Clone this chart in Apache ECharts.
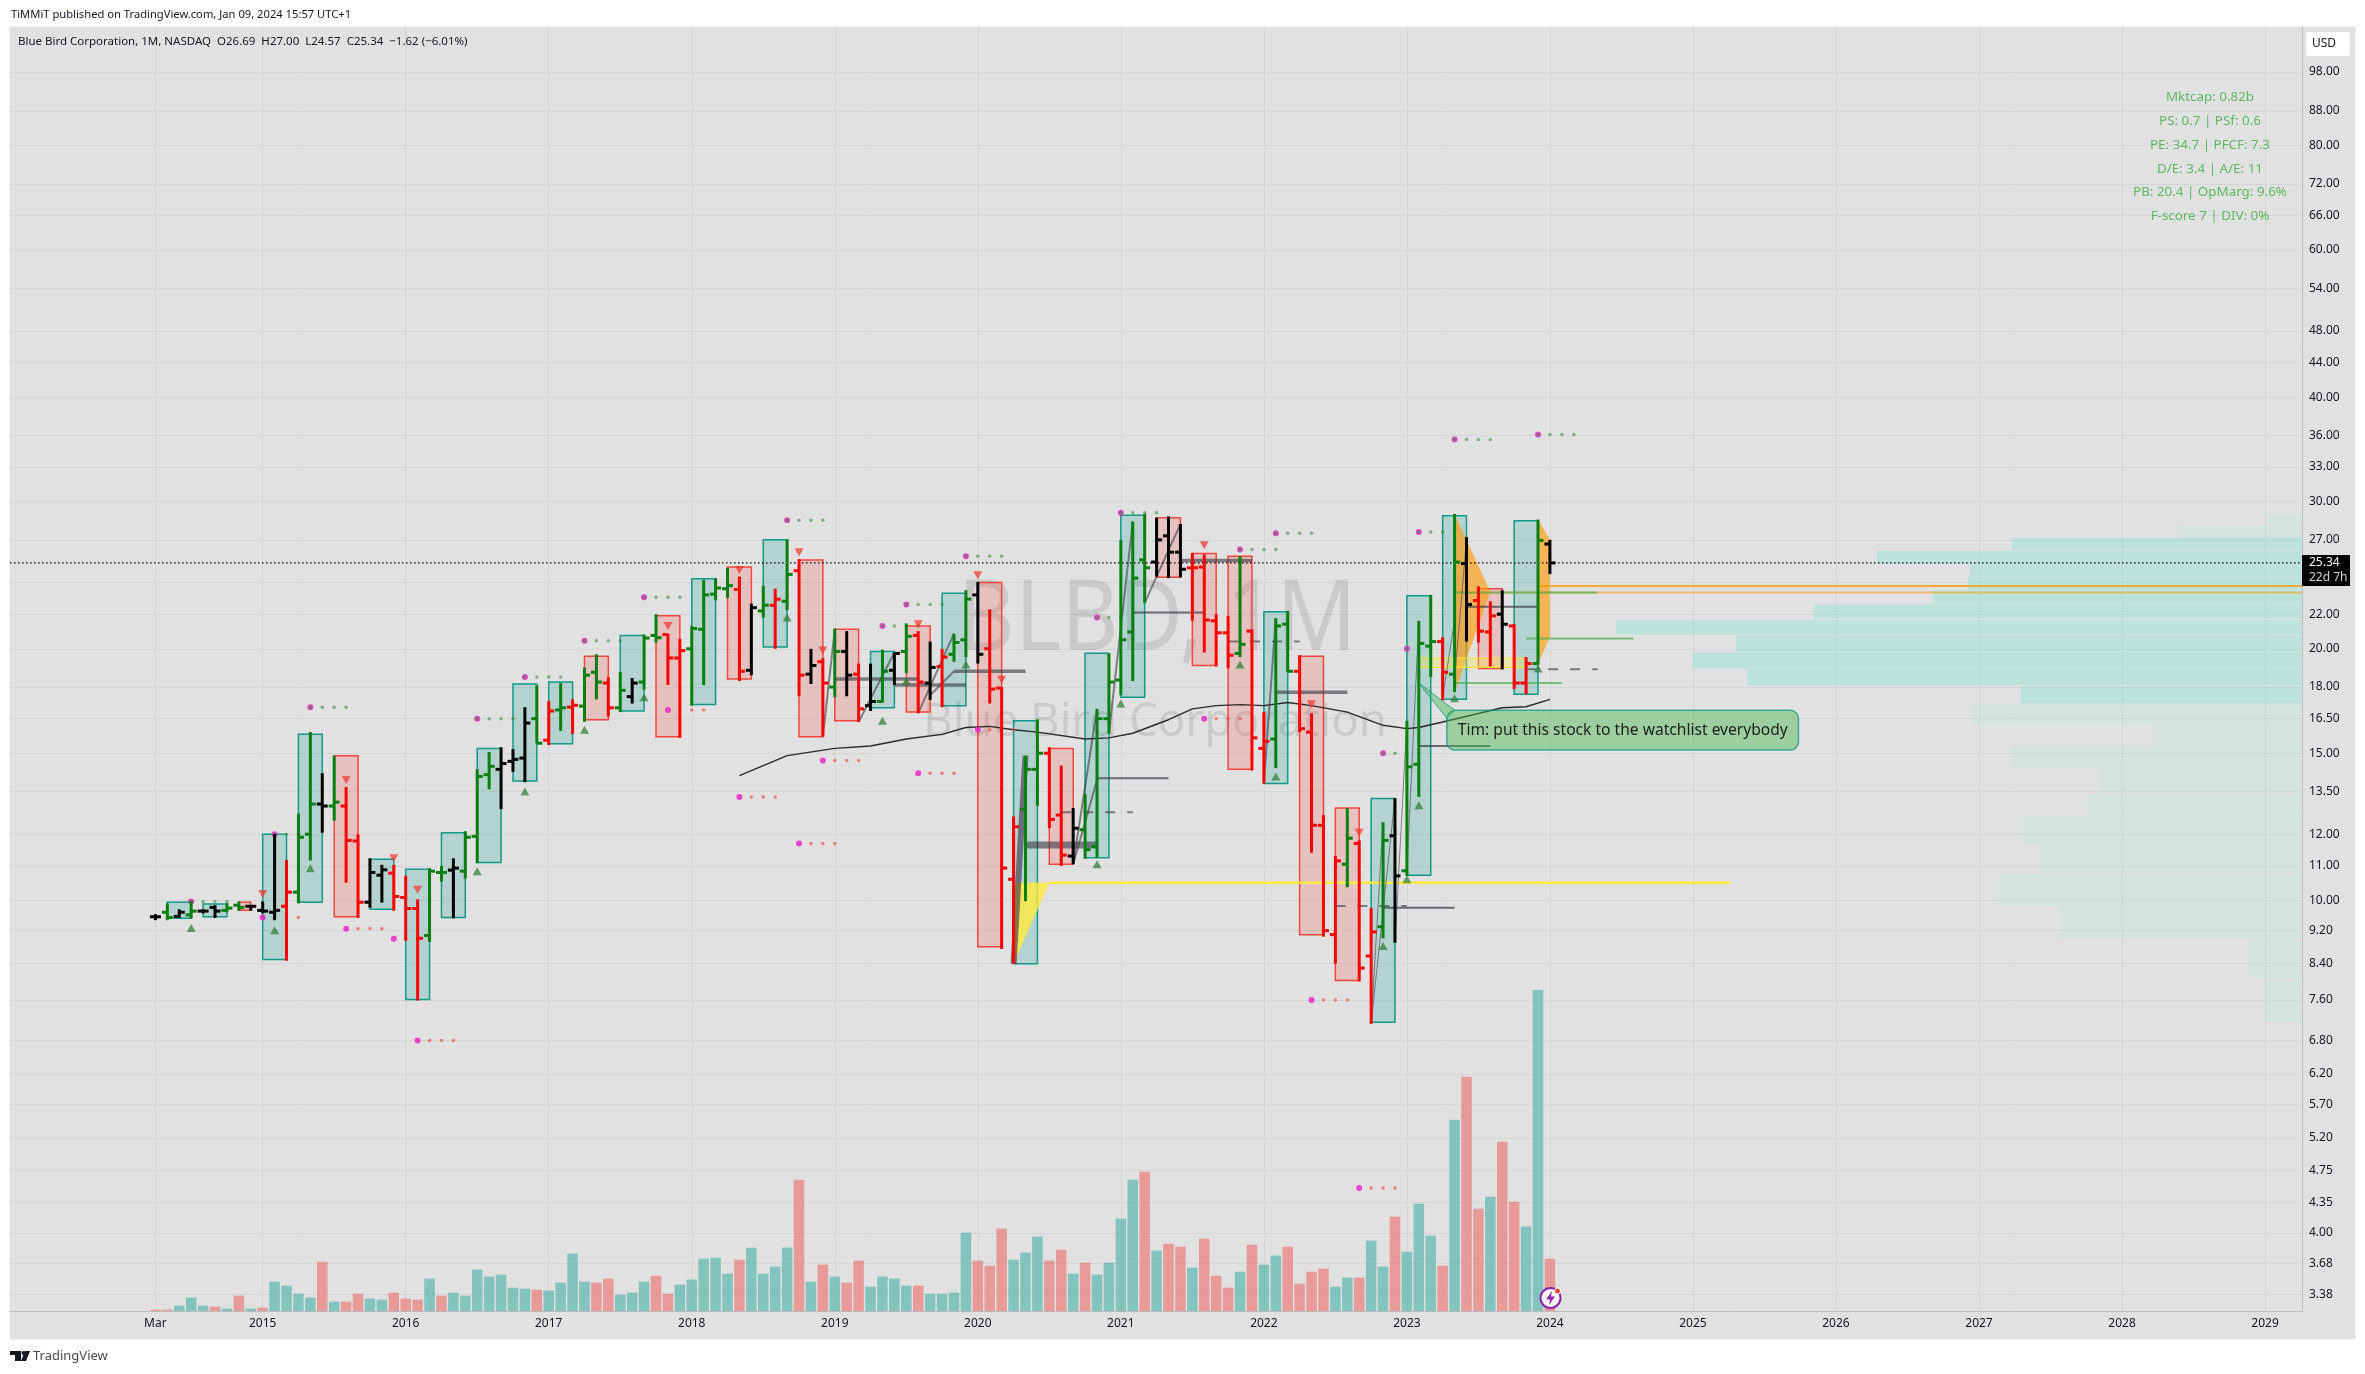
<!DOCTYPE html>
<html>
<head>
<meta charset="utf-8">
<title>BLBD 1M</title>
<script src="https://cdn.jsdelivr.net/npm/echarts@6/dist/echarts.min.js"></script>
<style>
  html, body { margin: 0; padding: 0; background: #fff; }
  #chart { width: 2365px; height: 1374px; }
</style>
</head>
<body>
<div id="chart"></div>
<script>
// monthly bars, index 0 = the "Mar" bar
const opens = [
  9.56, 9.68, 9.57, 9.61, 9.71, 9.81, 9.73, 9.87, 9.84, 9.73,
  9.68, 9.84, 10.23, 12.0, 13.04, 12.97, 12.97, 11.78, 9.95, 10.72,
  10.78, 10.08, 9.78, 9.08, 10.8, 10.87, 10.84, 11.93, 14.14, 14.35,
  14.67, 14.8, 16.5, 15.55, 16.9, 17.03, 17.08, 18.75, 18.2, 17.0,
  17.53, 18.25, 20.75, 20.8, 19.5, 20.0, 21.1, 23.25, 23.6, 23.55,
  18.85, 22.2, 22.55, 22.8, 24.8, 18.65, 19.3, 18.0, 19.85, 18.65,
  17.1, 17.3, 18.85, 19.85, 20.75, 18.2, 19.05, 19.7, 20.5, 23.2,
  20.0, 17.95, 10.6, 12.85, 14.35, 15.0, 12.65, 11.3, 12.15, 11.6,
  16.5, 18.35, 20.95, 25.55, 25.4, 27.3, 26.1, 25.0, 25.05, 21.6,
  20.9, 19.75, 21.0, 15.2, 15.6, 21.4, 18.8, 15.9, 12.3, 9.1,
  11.05, 11.7, 8.58, 9.3, 11.95, 10.85, 14.55, 20.15, 20.4, 18.65,
  25.3, 22.85, 20.95, 22.0, 21.3, 18.2, 19.2, 26.69
];
const highs = [
  9.63, 9.92, 9.76, 9.99, 9.76, 9.87, 9.92, 9.97, 9.87, 9.97,
  12.0, 11.18, 12.7, 15.9, 14.2, 14.9, 13.67, 12.0, 11.23, 11.03,
  11.03, 10.7, 10.03, 10.93, 11.0, 11.23, 12.1, 14.35, 15.05, 15.25,
  15.17, 17.03, 18.1, 17.33, 18.2, 17.4, 19.0, 19.7, 18.5, 18.75,
  18.45, 20.8, 22.0, 20.85, 20.55, 21.3, 24.2, 24.3, 25.0, 24.4,
  22.65, 23.8, 23.6, 27.05, 25.6, 20.0, 19.5, 21.15, 21.0, 19.2,
  19.2, 19.95, 19.8, 21.45, 21.0, 20.4, 20.0, 20.85, 23.5, 24.05,
  22.3, 18.0, 12.6, 14.9, 16.47, 15.25, 14.5, 12.9, 13.4, 16.95,
  19.75, 27.0, 28.4, 29.0, 28.7, 28.8, 28.2, 26.05, 25.95, 22.0,
  21.9, 25.8, 21.1, 16.8, 21.75, 22.2, 19.65, 16.75, 12.65, 11.3,
  12.9, 11.8, 9.8, 12.4, 13.26, 16.4, 21.6, 23.2, 20.65, 29.0,
  27.2, 23.75, 22.8, 23.5, 21.4, 19.55, 28.55, 27.0
];
const lows = [
  9.47, 9.47, 9.53, 9.52, 9.65, 9.53, 9.68, 9.72, 9.72, 9.65,
  9.47, 8.47, 9.92, 11.16, 12.05, 12.46, 10.5, 9.53, 9.8, 9.94,
  9.72, 8.95, 7.59, 8.92, 10.53, 9.52, 10.62, 11.08, 13.58, 12.86,
  14.25, 13.85, 15.42, 15.34, 15.95, 15.82, 16.36, 17.4, 16.6, 16.8,
  17.2, 17.87, 20.35, 18.1, 15.65, 17.1, 18.1, 22.85, 23.0, 18.3,
  18.6, 21.8, 20.0, 22.25, 17.55, 18.15, 15.7, 17.5, 17.55, 16.35,
  16.85, 17.25, 18.1, 18.7, 16.75, 17.37, 17.03, 19.3, 19.55, 19.2,
  17.2, 8.75, 8.4, 9.98, 12.98, 12.2, 11.0, 11.05, 11.22, 11.25,
  15.83, 17.6, 18.3, 22.7, 24.4, 24.3, 24.35, 21.6, 19.8, 19.05,
  18.95, 19.55, 14.3, 13.8, 14.4, 18.75, 15.9, 11.4, 9.05, 8.4,
  10.37, 8.0, 7.12, 9.01, 8.9, 10.7, 13.3, 18.5, 17.35, 17.75,
  20.4, 20.35, 19.05, 18.9, 17.9, 17.65, 19.15, 24.57
];
const closes = [
  9.56, 9.54, 9.68, 9.71, 9.71, 9.71, 9.79, 9.81, 9.84, 9.71,
  9.73, 10.23, 11.9, 13.04, 12.97, 13.11, 11.8, 9.95, 10.8, 10.88,
  10.11, 9.78, 9.01, 10.84, 10.8, 10.93, 11.9, 14.07, 14.47, 14.58,
  14.75, 16.3, 15.42, 16.85, 17.0, 17.12, 18.6, 18.25, 17.0, 17.84,
  18.2, 20.6, 20.62, 19.5, 19.9, 21.15, 23.2, 23.65, 23.8, 18.8,
  22.4, 22.55, 22.93, 24.55, 18.6, 19.1, 18.2, 19.85, 18.6, 16.95,
  17.3, 18.8, 19.75, 20.7, 18.25, 19.0, 19.55, 20.35, 22.93, 19.7,
  17.9, 10.93, 12.25, 14.35, 15.0, 12.5, 11.33, 12.2, 11.5, 16.5,
  18.25, 20.5, 24.3, 25.0, 27.0, 26.1, 24.9, 25.0, 21.65, 20.9,
  19.65, 20.25, 15.65, 15.5, 21.3, 18.8, 16.05, 12.3, 9.2, 11.15,
  11.87, 8.3, 9.17, 11.8, 10.7, 14.45, 20.3, 20.4, 18.75, 25.4,
  22.6, 21.0, 21.9, 21.4, 18.2, 19.2, 26.96, 25.34
];
const barTones = "kgkgkkggkk" + "krggkgrrkk" + "rrrggkgggk" + "kkgrgrggrg" + "kggrrggggr" + "kgrgrkrgkr" +
  "kgkgrkrggk" + "rrrggrrkgg" + "ggggkkkrrr" + "rgrrggrrrr" + "grrgkgggrg" + "krrkrrgk";

const volumes = [
  0.04, 0.04, 0.16, 0.4, 0.16, 0.13, 0.07, 0.46, 0.07, 0.1,
  0.88, 0.76, 0.52, 0.4, 1.48, 0.28, 0.28, 0.52, 0.37, 0.34,
  0.55, 0.37, 0.34, 0.97, 0.46, 0.55, 0.46, 1.24, 1.03, 1.09,
  0.7, 0.67, 0.64, 0.61, 0.85, 1.72, 0.88, 0.85, 0.97, 0.49,
  0.55, 0.88, 1.06, 0.52, 0.79, 0.94, 1.57, 1.6, 1.12, 1.54,
  1.9, 1.12, 1.33, 1.9, 3.94, 0.88, 1.39, 1.03, 0.85, 1.51,
  0.73, 1.03, 0.97, 0.76, 0.76, 0.52, 0.52, 0.55, 2.35, 1.51,
  1.36, 2.47, 1.54, 1.75, 2.23, 1.51, 1.84, 1.12, 1.45, 1.09,
  1.45, 2.77, 3.94, 4.18, 1.81, 2.02, 1.93, 1.3, 2.17, 1.06,
  0.7, 1.18, 1.99, 1.39, 1.66, 1.93, 0.82, 1.18, 1.27, 0.73,
  1.0, 1.0, 2.11, 1.33, 2.83, 1.78, 3.22, 2.26, 1.36, 5.74,
  7.03, 3.07, 3.43, 5.08, 3.28, 2.53, 9.63, 1.57
];
const volumeTones = "rrtttrtrtr" + "ttttrtrrtt" + "rrrtrttttt" + "ttrttttrrt" + "ttrrtttttr" + "ttttrtrtrr" +
  "ttttrttttr" + "rrtttrrtrt" + "tttrtrrtrr" + "rtrttrrrrt" + "trttrtttrt" + "rrtrrttr";

// quarter boxes: first bar, last bar, top price, bottom price
const tealBoxes = [
  [1, 3, 9.95, 9.52], [4, 6, 9.9, 9.56], [9, 11, 12.0, 8.5], [12, 14, 15.8, 9.95],
  [18, 20, 11.2, 9.76], [21, 23, 10.9, 7.61], [24, 26, 12.05, 9.54], [27, 29, 15.2, 11.1],
  [30, 32, 18.15, 13.9], [33, 35, 18.25, 15.4], [39, 41, 20.75, 16.85], [45, 47, 24.25, 17.15],
  [51, 53, 27.0, 20.1], [60, 62, 19.85, 17.0], [66, 68, 23.3, 17.1], [72, 74, 16.4, 8.4],
  [78, 80, 19.75, 11.25], [81, 83, 28.9, 17.5], [93, 95, 22.15, 13.8], [102, 104, 13.24, 7.15],
  [105, 107, 23.15, 10.72], [108, 110, 28.85, 17.4], [114, 116, 28.45, 17.65]
];
const redBoxes = [
  [7, 8, 9.95, 9.73], [15, 17, 14.9, 9.56], [36, 38, 19.6, 16.45], [42, 44, 21.9, 15.7],
  [48, 50, 25.05, 18.4], [54, 56, 25.55, 15.7], [57, 59, 21.1, 16.4], [63, 65, 21.3, 16.8],
  [69, 71, 24.0, 8.8], [75, 77, 15.2, 11.05], [84, 86, 28.7, 24.35], [87, 89, 26.0, 19.1],
  [90, 92, 25.8, 14.35], [96, 98, 19.6, 9.1], [99, 101, 12.9, 8.02], [111, 113, 23.6, 18.95]
];

// dot rows: first bar, price (one head plus three tails)
const greenDotRows = [
  [3, 9.97], [10, 12.0], [13, 17.03], [27, 16.5], [31, 18.5], [36, 20.45], [41, 23.05], [53, 28.5],
  [61, 21.3], [63, 22.6], [68, 25.8], [79, 21.8], [81, 29.1], [91, 26.3], [94, 27.5], [103, 15.0],
  [105, 20.0], [106, 27.6], [109, 35.6], [116, 36.1]
];
const redDotRows = [
  [9, 9.54], [16, 9.25], [20, 9.0], [22, 6.8], [43, 16.9], [49, 13.3], [54, 11.7], [56, 14.7],
  [64, 14.2], [69, 16.0], [88, 16.5], [97, 7.6], [101, 4.53]
];

const upSignals = [
  [3, 9.27], [10, 9.21], [13, 10.93], [27, 10.84], [31, 13.5], [36, 16.0], [41, 17.5], [53, 21.8],
  [61, 16.4], [63, 18.3], [68, 19.15], [79, 11.05], [81, 17.2], [91, 19.15], [94, 14.07], [103, 8.82],
  [105, 10.6], [106, 13.0], [109, 17.45], [116, 18.95]
];
const downSignals = [
  [9, 10.18], [16, 13.93], [20, 11.23], [22, 10.3], [43, 21.3], [49, 24.85], [54, 26.1], [56, 19.9],
  [64, 21.4], [69, 24.5], [71, 18.36], [88, 26.6], [97, 17.17], [101, 12.05]
];

const averageLine = [
  [49, 14.1], [53, 14.9], [57, 15.2], [60, 15.3], [63, 15.6], [66, 15.8], [68, 16.1], [70, 16.15],
  [72, 16.0], [74, 15.9], [78, 15.6], [80, 15.65], [82, 15.85], [85, 16.45], [87, 16.95], [89, 17.1],
  [91, 17.15], [93, 17.1], [95, 17.25], [97, 17.1], [100, 16.8], [103, 16.2], [105, 16.05], [106, 16.1],
  [108, 16.35], [113, 17.0], [115, 17.05], [117, 17.4]
];

// drawings: x0, price0, x1, price1
const thinLevels = [
  [73, 14.35, 74, 14.35], [79, 14.0, 85, 14.0], [82, 22.1, 88, 22.1], [103, 9.8, 109, 9.8],
  [106, 15.3, 112, 15.3], [110, 22.45, 116, 22.45]
];
const heavyLevels = [
  [57, 18.4, 64, 18.4], [62, 18.1, 68, 18.1], [67, 18.8, 73, 18.8], [86, 25.5, 92, 25.5], [94, 17.75, 100, 17.75]
];
const blockLevels = [[73, 11.65, 79, 11.65]];
const dashedLevels = [
  [76, 12.75, 82, 12.75], [90, 20.4, 96, 20.4], [99, 9.85, 105, 9.85], [115, 18.9, 121, 18.9]
];
const wedgeLines = [[72, 8.4, 73, 14.9]];
const trendLines = [
  [56, 15.7, 57, 21.1], [59, 16.35, 62, 19.8], [64, 16.75, 67, 20.85], [65, 17.6, 67, 18.8],
  [77, 11.05, 79, 16.95], [77, 11.05, 79, 13.93], [80, 15.83, 82, 28.4], [83, 22.7, 86, 28.2], [93, 13.8, 94, 21.75]
];
const hairLines = [
  [102, 7.12, 103, 12.4], [102, 7.12, 104, 13.26], [104, 8.9, 105, 16.4], [105, 10.85, 106, 21.6],
  [108, 17.5, 109, 21.6], [109, 18.36, 110, 27.0]
];
const greenLevels = [[115, 20.57, 124, 20.57], [109, 18.2, 118, 18.2], [109, 23.35, 121, 23.35]];
const orangeLevels = [[116, 23.77, 181, 23.77]];
const paleOrangeLevels = [[109, 23.35, 181, 23.35]];
const yellowLevels = [[75, 10.5, 132.1, 10.5]];

const orangeShapes = [
  [[109, 29.0], [112, 23.4], [109, 17.75]],
  [[116, 28.55], [117, 27.0], [117, 20.65], [116, 19.2]]
];
const yellowShapes = [[[72, 10.5], [75, 10.5], [72, 8.4]]];
const watchZone = [106, 19.5, 115, 19.0];

// volume profile rows: top price, bottom price, traded volume
const profileValueArea = [
  [27.15, 26.3, 29], [26.2, 25.3, 42.5], [25.25, 24.45, 33.2], [24.4, 23.55, 33.4], [23.5, 22.65, 36.9],
  [22.6, 21.75, 48.8], [21.65, 20.8, 68.6], [20.75, 19.85, 56.6], [19.8, 18.95, 60.9], [18.9, 18.1, 55.5],
  [18.05, 17.2, 28.1]
];
const profileRest = [
  [28.9, 28.15, 3.4], [28.05, 27.2, 12.4], [17.15, 16.25, 33.1], [16.2, 15.35, 14.8], [15.3, 14.4, 29.1],
  [14.4, 13.45, 20.3], [13.4, 12.65, 21.5], [12.6, 11.65, 27.9], [11.65, 10.8, 26.2], [10.75, 9.85, 30.3],
  [9.85, 9.0, 24.2], [8.95, 8.08, 5.3], [8.03, 7.16, 3.7]
];

const priceTicks = [98, 88, 80, 72, 66, 60, 54, 48, 44, 40, 36, 33, 30, 27, 24, 22, 20, 18, 16.5, 15, 13.5, 12, 11, 10,
  9.2, 8.4, 7.6, 6.8, 6.2, 5.7, 5.2, 4.75, 4.35, 4.0, 3.68, 3.38];
const timeTickBars = [0, 9, 21, 33, 45, 57, 69, 81, 93, 105, 117, 129, 141, 153, 165, 177];
const timeTickLabels = ["Mar", "2015", "2016", "2017", "2018", "2019", "2020", "2021", "2022", "2023", "2024",
  "2025", "2026", "2027", "2028", "2029"];

const lastPrice = 25.34;
const infoLines = ["Mktcap: 0.82b", "PS: 0.7 | PSf: 0.6", "PE: 34.7 | PFCF: 7.3", "D/E: 3.4 | A/E: 11",
  "PB: 20.4 | OpMarg: 9.6%", "F-score 7 | DIV: 0%"];
const noteText = "Tim: put this stock to the watchlist everybody";

const FONT = '"Noto Sans"';
const chart = echarts.init(document.getElementById("chart"));

function segmentSeries(rows, color, width, dash, z) {
  return {
    type: "custom", data: rows, z: z, silent: true, clip: true,
    renderItem: function (params, api) {
      const a = api.coord([api.value(0), api.value(1)]);
      const b = api.coord([api.value(2), api.value(3)]);
      return {
        type: "line",
        shape: { x1: a[0], y1: a[1], x2: b[0], y2: b[1] },
        style: { stroke: color, lineWidth: width, lineDash: dash || null, fill: null }
      };
    }
  };
}

function boxSeries(rows, fill, stroke) {
  return {
    type: "custom", data: rows, z: 3, silent: true,
    renderItem: function (params, api) {
      const a = api.coord([api.value(0), api.value(2)]);
      const b = api.coord([api.value(1), api.value(3)]);
      return {
        type: "rect",
        shape: { x: a[0], y: a[1], width: b[0] - a[0], height: b[1] - a[1] },
        style: { fill: fill, stroke: stroke, lineWidth: 1.5 }
      };
    }
  };
}

function shapeSeries(shapes, fill, z) {
  return {
    type: "custom", data: shapes.map(function (s, i) { return [i]; }), z: z, silent: true,
    renderItem: function (params, api) {
      const pts = shapes[api.value(0)].map(function (p) { return api.coord(p); });
      return { type: "polygon", shape: { points: pts }, style: { fill: fill } };
    }
  };
}

function profileSeries(rows, fill) {
  return {
    type: "custom", data: rows, xAxisIndex: 1, yAxisIndex: 0, z: 2, silent: true,
    renderItem: function (params, api) {
      const a = api.coord([api.value(2), api.value(0)]);
      const b = api.coord([0, api.value(1)]);
      return {
        type: "rect",
        shape: { x: a[0], y: a[1], width: b[0] - a[0], height: b[1] - a[1] },
        style: { fill: fill }
      };
    }
  };
}

function spreadDots(rows) {
  const out = [];
  rows.forEach(function (r) {
    for (let i = 0; i < 4; i++) out.push([r[0] + i, r[1]]);
  });
  return out;
}

const toneColor = { k: "#000000", g: "#087f0f", r: "#ff0000" };
const ohlcRows = opens.map(function (o, i) { return [i, o, highs[i], lows[i], closes[i]]; });

const chartOption = {
  animation: false,
  backgroundColor: "#ffffff",
  textStyle: { fontFamily: FONT },
  grid: { left: 10, right: 63, top: 27, bottom: 63, containLabel: false },
  xAxis: [{
    type: "value", min: -12.2, max: 180.1, position: "bottom",
    axisLine: { show: true, onZero: false, lineStyle: { color: "#bdbdbd", width: 1 } },
    axisTick: { show: false, customValues: timeTickBars },
    splitLine: { show: true, lineStyle: { color: "#d4d4d4", width: 1 } },
    axisLabel: {
      customValues: timeTickBars, margin: 7, fontSize: 12, fontFamily: FONT,
      color: function (v) { return v === 0 ? "#50535e" : "#131722"; },
      formatter: function (v) { return timeTickLabels[timeTickBars.indexOf(v)]; }
    }
  }, {
    type: "value", min: 0, max: 229.2, inverse: true, show: false
  }],
  yAxis: [{
    type: "log", logBase: 10, min: 3.227, max: 110.9, position: "right",
    axisLine: { show: true, onZero: false, lineStyle: { color: "#bdbdbd", width: 1 } },
    axisTick: { show: false, customValues: priceTicks },
    minorTick: { show: false },
    splitLine: { show: true, lineStyle: { color: "#d4d4d4", width: 1 } },
    axisLabel: {
      customValues: priceTicks, margin: 7, fontSize: 12, fontFamily: FONT, color: "#131722",
      formatter: function (v) { return Number(v).toFixed(2); }
    }
  }, {
    type: "value", min: 0, max: 38.52, show: false
  }],
  graphic: [
    { type: "rect", z: -10, silent: true, shape: { x: 10, y: 27, width: 2345, height: 1312 }, style: { fill: "#e1e1e1", stroke: "#e0e3eb", lineWidth: 1 } },
    { type: "text", z: 1, silent: true, x: 1157, y: 622, scaleX: 0.9, style: { text: "BLBD, 1M", x: 0, y: 0, align: "center", verticalAlign: "middle", font: '98px ' + FONT, fill: "rgba(0,0,0,0.1)" } },
    { type: "text", z: 1, silent: true, style: { text: "Blue Bird Corporation", x: 1155, y: 723, align: "center", verticalAlign: "middle", font: '45.5px ' + FONT, fill: "rgba(0,0,0,0.1)" } },
    { type: "text", z: 10, silent: true, style: { text: "TiMMiT published on TradingView.com, Jan 09, 2024 15:57 UTC+1", x: 11, y: 15, align: "left", verticalAlign: "middle", font: '11.2px ' + FONT, fill: "#131722" } },
    { type: "text", z: 10, silent: true, style: { text: "Blue Bird Corporation, 1M, NASDAQ  O26.69  H27.00  L24.57  C25.34  \u22121.62 (\u22126.01%)", x: 18, y: 42, align: "left", verticalAlign: "middle", font: '11.5px ' + FONT, fill: "#131722" } },
    { type: "rect", z: 10, silent: true, shape: { x: 2306, y: 32, width: 44, height: 24, r: 3 }, style: { fill: "#ffffff" } },
    { type: "text", z: 11, silent: true, style: { text: "USD", x: 2324, y: 44, align: "center", verticalAlign: "middle", font: '12px ' + FONT, fill: "#131722" } }
  ].concat(infoLines.map(function (line, i) {
    return { type: "text", z: 10, silent: true, style: { text: line, x: 2210, y: 97 + i * 23.9, align: "center", verticalAlign: "middle", font: '13.4px ' + FONT, fill: "#5cb860" } };
  })).concat([
    { type: "polygon", z: 10, silent: true, shape: { points: [[10, 1351], [21, 1351], [21, 1361], [15, 1361], [15, 1355], [10, 1355]] }, style: { fill: "#131722" } },
    { type: "circle", z: 10, silent: true, shape: { cx: 23.5, cy: 1353, r: 2 }, style: { fill: "#131722" } },
    { type: "polygon", z: 10, silent: true, shape: { points: [[25, 1351], [30, 1351], [26, 1361], [21, 1361]] }, style: { fill: "#131722" } },
    { type: "text", z: 10, silent: true, style: { text: "TradingView", x: 33, y: 1356, align: "left", verticalAlign: "middle", font: '13px ' + FONT, fill: "#4a4a4a" } },
    { type: "circle", z: 30, silent: true, shape: { cx: 1550.5, cy: 1298, r: 10 }, style: { fill: "#ffffff", stroke: "#8e24aa", lineWidth: 2 } },
    { type: "polygon", z: 31, silent: true, shape: { points: [[1552, 1291], [1546, 1299.5], [1550, 1299.5], [1549, 1305], [1555, 1296.5], [1551, 1296.5]] }, style: { fill: "#8e24aa" } },
    { type: "circle", z: 31, silent: true, shape: { cx: 1557.5, cy: 1291, r: 3 }, style: { fill: "#f44336", stroke: "#ffffff", lineWidth: 1 } }
  ]),
  series: [
    {
      type: "bar", xAxisIndex: 0, yAxisIndex: 1, barWidth: 10.5, z: 2, silent: true,
      data: volumes.map(function (v, i) {
        return { value: [i, v], itemStyle: { color: volumeTones[i] === "t" ? "rgba(38,166,154,0.5)" : "rgba(239,83,80,0.5)" } };
      })
    },
    profileSeries(profileValueArea, "rgba(77,237,205,0.25)"),
    profileSeries(profileRest, "rgba(85,245,215,0.1)"),
    boxSeries(tealBoxes, "rgba(0,150,136,0.2)", "#0f9a8b"),
    boxSeries(redBoxes, "rgba(244,67,54,0.2)", "#f4473c"),
    shapeSeries(orangeShapes, "rgba(255,152,0,0.62)", 4),
    shapeSeries(yellowShapes, "rgba(255,235,59,0.8)", 4),
    {
      type: "custom", data: [watchZone], z: 4, silent: true,
      renderItem: function (params, api) {
        const a = api.coord([api.value(0), api.value(1)]);
        const b = api.coord([api.value(2), api.value(3)]);
        return {
          type: "rect", shape: { x: a[0], y: a[1], width: b[0] - a[0], height: b[1] - a[1] },
          style: { fill: "rgba(255,235,59,0.3)", stroke: "#f5e62c", lineWidth: 1.2 }
        };
      }
    },
    segmentSeries(yellowLevels, "#fdea3e", 2.5, null, 4),
    segmentSeries(orangeLevels, "#ff9800", 1.5, null, 4),
    segmentSeries(paleOrangeLevels, "rgba(255,152,0,0.5)", 2, null, 4),
    segmentSeries(greenLevels, "rgba(76,175,80,0.7)", 2, null, 4),
    segmentSeries(thinLevels, "rgba(60,60,70,0.72)", 2, null, 4),
    segmentSeries(heavyLevels, "rgba(60,60,70,0.62)", 3.5, null, 4),
    segmentSeries(blockLevels, "rgba(60,60,70,0.62)", 7, null, 4),
    segmentSeries(dashedLevels, "rgba(60,60,70,0.62)", 2, [10, 12], 4),
    segmentSeries(wedgeLines, "rgba(60,60,70,0.65)", 6, null, 4),
    segmentSeries(trendLines, "rgba(60,60,70,0.6)", 2, null, 4),
    segmentSeries(hairLines, "rgba(60,60,70,0.6)", 1, null, 4),
    {
      type: "line", data: averageLine, z: 5, showSymbol: false, silent: true, smooth: false,
      lineStyle: { color: "#2a2a2a", width: 1.4 }
    },
    {
      type: "line", data: [[-12.2, lastPrice], [180.1, lastPrice]], z: 5, showSymbol: false, silent: true,
      lineStyle: { color: "#000000", width: 1.2, type: [1.5, 2.5] }
    },
    {
      type: "scatter", z: 5, silent: true, symbolSize: 6, itemStyle: { color: "#ee1cc6" },
      data: greenDotRows.concat(redDotRows)
    },
    {
      type: "scatter", z: 5, silent: true, symbolSize: 3.5, itemStyle: { color: "rgba(56,142,60,0.75)" },
      data: spreadDots(greenDotRows)
    },
    {
      type: "scatter", z: 5, silent: true, symbolSize: 3.5, itemStyle: { color: "rgba(244,67,54,0.8)" },
      data: spreadDots(redDotRows).filter(function (p, i) { return i % 4 !== 0; })
    },
    {
      type: "custom", z: 6, silent: true, data: ohlcRows,
      renderItem: function (params, api) {
        const i = api.value(0);
        const cx = api.coord([i, 10])[0];
        const oy = api.coord([i, api.value(1)])[1];
        const hy = api.coord([i, api.value(2)])[1];
        const ly = api.coord([i, api.value(3)])[1];
        const cy = api.coord([i, api.value(4)])[1];
        const fill = toneColor[barTones[i]];
        return {
          type: "group",
          children: [
            { type: "rect", shape: { x: cx - 1.5, y: hy, width: 3, height: Math.max(ly - hy, 2) }, style: { fill: fill } },
            { type: "rect", shape: { x: cx - 5.5, y: oy - 1.5, width: 5.5, height: 3 }, style: { fill: fill } },
            { type: "rect", shape: { x: cx, y: cy - 1.5, width: 5.5, height: 3 }, style: { fill: fill } }
          ]
        };
      }
    },
    {
      type: "scatter", z: 7, silent: true, symbol: "triangle", symbolSize: [9, 8],
      itemStyle: { color: "rgba(46,125,50,0.9)" }, data: upSignals
    },
    {
      type: "scatter", z: 7, silent: true, symbol: "triangle", symbolRotate: 180, symbolSize: [9, 8],
      itemStyle: { color: "rgba(244,52,44,0.9)" }, data: downSignals
    },
    {
      // the callout anchored on the chart, tip at bar 106
      type: "custom", z: 8, silent: true, clip: false, data: [[106, 18.2, 108.35, 16.88, 137.85, 15.13]],
      renderItem: function (params, api) {
        const tip = api.coord([api.value(0), api.value(1)]);
        const a = api.coord([api.value(2), api.value(3)]);
        const b = api.coord([api.value(4), api.value(5)]);
        const fill = "rgba(76,185,80,0.45)";
        const stroke = "rgba(0,150,136,0.7)";
        return {
          type: "group",
          children: [
            { type: "rect", shape: { x: a[0], y: a[1], width: b[0] - a[0], height: b[1] - a[1], r: 8 }, style: { fill: fill, stroke: stroke, lineWidth: 1.5 } },
            { type: "polygon", shape: { points: [tip, [a[0] + 8, a[1]], [a[0], a[1] + 8]] }, style: { fill: fill, stroke: stroke, lineWidth: 1 } },
            { type: "text", style: { text: noteText, x: a[0] + 11, y: (a[1] + b[1]) / 2 + 0.5, verticalAlign: "middle", align: "left", font: '15.6px ' + FONT, fill: "#1b1f1b" } }
          ]
        };
      }
    },
    {
      // last price tag on the price scale
      type: "custom", z: 20, silent: true, clip: false, data: [[180.1, lastPrice]],
      renderItem: function (params, api) {
        const p = api.coord([api.value(0), api.value(1)]);
        return {
          type: "group",
          children: [
            { type: "rect", shape: { x: p[0], y: p[1] - 8, width: 48, height: 31 }, style: { fill: "#000000" } },
            { type: "text", style: { text: "25.34", x: p[0] + 7, y: p[1], verticalAlign: "middle", align: "left", font: '12px ' + FONT, fill: "#ffffff" } },
            { type: "text", style: { text: "22d 7h", x: p[0] + 7, y: p[1] + 15, verticalAlign: "middle", align: "left", font: '12px ' + FONT, fill: "#d6d6d6" } }
          ]
        };
      }
    }
  ]
};

chart.setOption(chartOption);
</script>
</body>
</html>
